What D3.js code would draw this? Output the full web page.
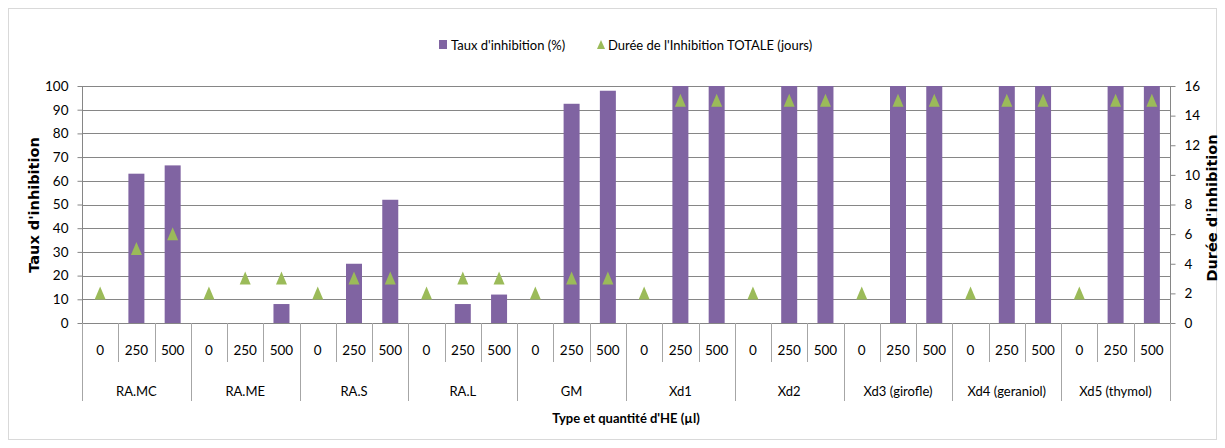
<!DOCTYPE html>
<html><head><meta charset="utf-8">
<script src="https://cdn.jsdelivr.net/npm/d3@7"></script>
<style>
body{margin:0;background:#fff;}
svg{font-family:Lato,"Open Sans",sans-serif;}
</style></head><body>
<svg id="c" width="1225" height="448"></svg>
<script>
const groups = ["RA.MC","RA.ME","RA.S","RA.L","GM","Xd1","Xd2","Xd3 (girofle)","Xd4 (geraniol)","Xd5 (thymol)"];
const doses = ["0","250","500"];
const taux = [0,63,66.5, 0,0,8, 0,25,52, 0,8,12, 0,92.5,98, 0,100,100, 0,100,100, 0,100,100, 0,100,100, 0,100,100];
const duree = [2,5,6, 2,3,3, 2,3,3, 2,3,3, 2,3,3, 2,15,15, 2,15,15, 2,15,15, 2,15,15, 2,15,15];
const leftTicks = [0,10,20,30,40,50,60,70,80,90,100];
const rightTicks = [0,2,4,6,8,10,12,14,16];

const svg = d3.select("#c");
const m={l:82,r:1170,t:86,b:323};
const purple="#8064A2", green="#9BBB59", grid="#868686", sep="#A6A6A6";
const FS=13;
const LATO="Lato, 'Open Sans', sans-serif";
const DV="'DejaVu Sans', Verdana, sans-serif";

svg.append("rect").attr("x",8.5).attr("y",8.5).attr("width",1208).attr("height",431)
  .attr("fill","#fff").attr("stroke","#D9D9D9");

const keys=[];groups.forEach((g,gi)=>doses.forEach((d,di)=>keys.push(gi*3+di)));
const x=d3.scaleBand().domain(keys).range([m.l,m.r]).padding(0);
const y=d3.scaleLinear().domain([0,100]).range([m.b,m.t]);
const y2=d3.scaleLinear().domain([0,16]).range([m.b,m.t]);

// gridlines
svg.append("g").selectAll("line").data(leftTicks).join("line")
  .attr("x1",m.l).attr("x2",m.r).attr("y1",d=>Math.round(y(d))+0.5).attr("y2",d=>Math.round(y(d))+0.5)
  .attr("stroke",grid).attr("stroke-width",1);

// left axis
const la=svg.append("g").attr("transform",`translate(${m.l+0.5},0)`)
  .call(d3.axisLeft(y).tickValues(leftTicks).tickSize(5).tickPadding(9));
la.select(".domain").attr("stroke",grid).attr("d",`M0,${m.b}V${m.t}`);
la.selectAll(".tick line").attr("stroke",grid);
la.selectAll(".tick text").style("font-size",(FS+0.5)+"px").style("font-family",LATO).attr("fill","#000");

// right axis
const ra=svg.append("g").attr("transform",`translate(${m.r+0.5},0)`)
  .call(d3.axisRight(y2).tickValues(rightTicks).tickSize(5).tickPadding(9));
ra.select(".domain").attr("stroke",grid).attr("d",`M0,${m.b}V${m.t}`);
ra.selectAll(".tick line").attr("stroke",grid);
ra.selectAll(".tick text").style("font-size",(FS+0.5)+"px").style("font-family",LATO).attr("fill","#000");

// bars
const bw=16;
svg.append("g").selectAll("rect").data(taux).join("rect")
  .attr("x",(d,i)=>x(i)+x.bandwidth()/2-bw/2).attr("width",bw)
  .attr("y",d=>y(d)).attr("height",d=>y(0)-y(d)).attr("fill",purple);

// triangles
const triPath="M0,-7L5.5,6L-5.5,6Z";
svg.append("g").selectAll("path").data(duree).join("path")
  .attr("d",triPath).attr("transform",(d,i)=>`translate(${x(i)+x.bandwidth()/2},${y2(d)})`)
  .attr("fill",green);

// category axis lines
const ax=svg.append("g");
ax.append("line").attr("x1",m.l).attr("x2",m.r).attr("y1",m.b+0.5).attr("y2",m.b+0.5).attr("stroke",grid);
keys.forEach(i=>{
  const xx=Math.round(x(i))+0.5;
  const isGroup = i%3===0;
  ax.append("line").attr("x1",xx).attr("x2",xx).attr("y1",m.b).attr("y2",isGroup?401:362).attr("stroke",sep);
});
ax.append("line").attr("x1",m.r+0.5).attr("x2",m.r+0.5).attr("y1",m.b).attr("y2",401).attr("stroke",sep);

// dose labels
svg.append("g").selectAll("text").data(keys).join("text")
  .attr("x",i=>x(i)+x.bandwidth()/2).attr("y",355).attr("text-anchor","middle")
  .style("font-size",(FS+0.5)+"px").style("font-family",LATO).text(i=>doses[i%3]);
// group labels
svg.append("g").selectAll("text").data(groups).join("text")
  .attr("x",(g,gi)=>x(gi*3)+x.bandwidth()*1.5).attr("y",396).attr("text-anchor","middle")
  .style("font-size",FS+"px").style("font-family",LATO).text(g=>g);

// axis titles
svg.append("text").attr("x",626).attr("y",423).attr("text-anchor","middle")
  .style("font-size",FS+"px").style("font-family",LATO).style("font-weight","bold").text("Type et quantité d'HE (µl)");
svg.append("text").attr("transform","translate(39,205) rotate(-90)").attr("text-anchor","middle")
  .style("font-family",DV).style("font-size","14.5px").style("font-weight","bold").text("Taux d'inhibition");
svg.append("text").attr("transform","translate(1217,208) rotate(-90)").attr("text-anchor","middle")
  .style("font-family",DV).style("font-size","14.5px").style("font-weight","bold").text("Durée d'inhibition");

// legend
const lg=svg.append("g");
lg.append("rect").attr("x",439).attr("y",40).attr("width",8).attr("height",9).attr("fill",purple);
lg.append("text").attr("x",451).attr("y",50).style("font-size",FS+"px").style("font-family",LATO).text("Taux d'inhibition (%)");
lg.append("path").attr("d","M0,-5L4,4L-4,4Z").attr("transform","translate(601,45)").attr("fill",green);
lg.append("text").attr("x",608).attr("y",50).style("font-size",FS+"px").style("font-family",LATO).text("Durée de l'Inhibition TOTALE (jours)");
</script></body></html>
